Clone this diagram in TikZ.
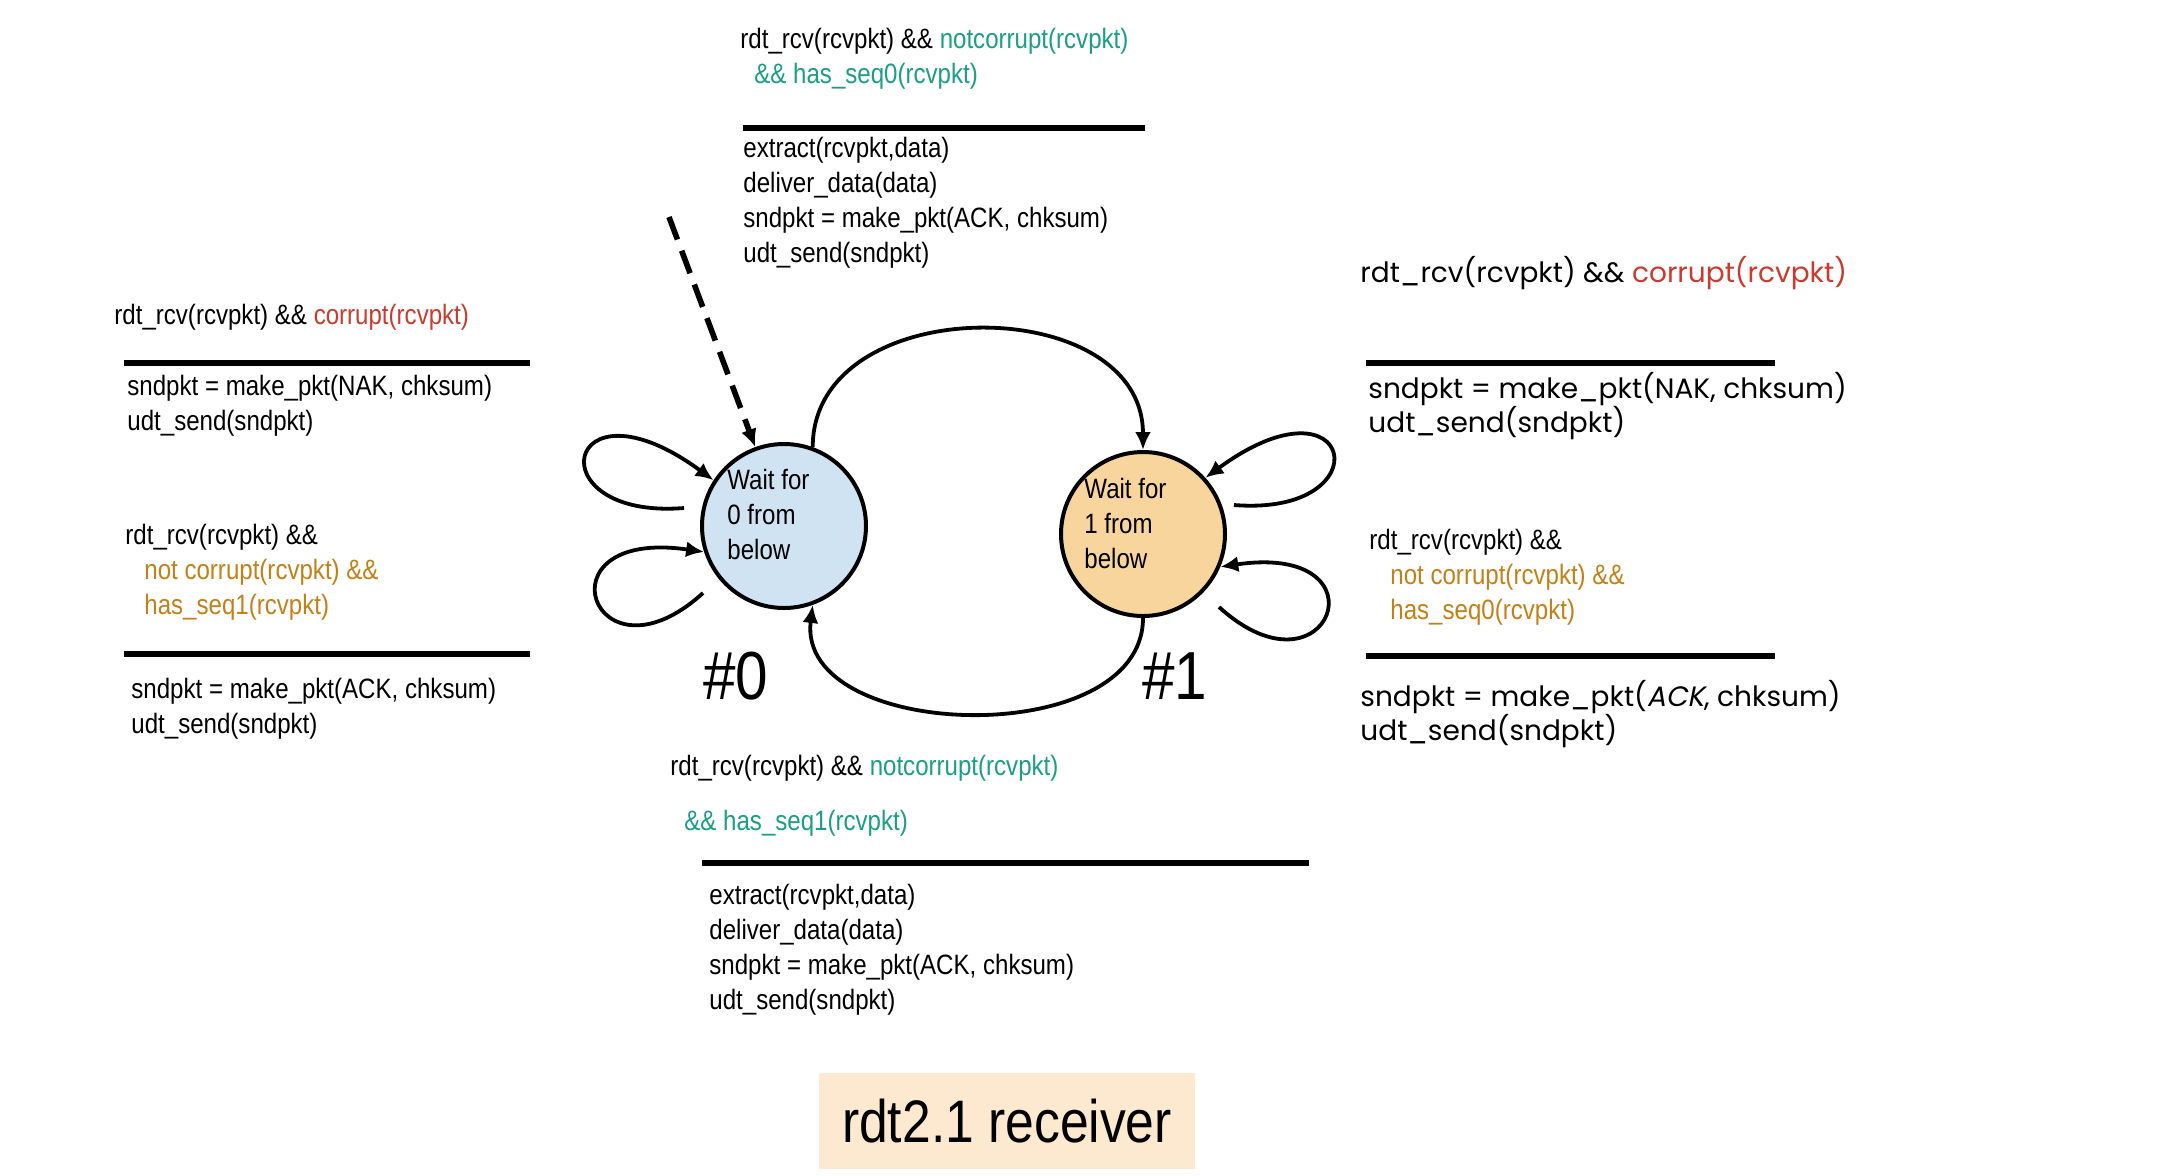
\documentclass[tikz,border=0pt]{standalone}
\usepackage{fontspec}
\setmainfont{Liberation Sans}[FakeStretch=0.86]
\newfontfamily\comicfont{Poppins}
\newfontfamily\comicslant{Poppins}[FakeSlant=0.2]
\usetikzlibrary{positioning,arrows.meta,calc}

\definecolor{okgreen}{RGB}{26,158,133}
\definecolor{badred}{RGB}{204,58,45}
\definecolor{dupbrown}{RGB}{196,128,24}
\definecolor{waitblue}{RGB}{207,227,243}
\definecolor{waitorange}{RGB}{249,213,158}
\definecolor{titlefill}{RGB}{252,233,208}

\begin{document}
\begin{tikzpicture}[
  x=0.5pt, y=-0.5pt,
  >={Latex[length=9pt,width=8pt]},
  cond/.style={font=\fontsize{14}{17.5}\selectfont, align=left, inner sep=0pt, anchor=base west},
  comic/.style={font=\comicfont\fontsize{14}{17}\selectfont, align=left, inner sep=0pt, anchor=base west},
  state/.style={circle, draw, line width=2pt, minimum size=82pt, inner sep=0pt},
  statetxt/.style={font=\fontsize{14}{17.5}\selectfont, align=left, inner sep=0pt, anchor=base west},
  bignum/.style={font=\fontsize{34}{40}\selectfont, inner sep=0pt, anchor=base west},
  edge/.style={->, line width=1.9pt},
  initedge/.style={->, line width=2.8pt, dash pattern=on 12pt off 6pt},
  bar/.style={line width=2.6pt},
]
\useasboundingbox (0,0) rectangle (2158,1175);
% multi-line nodes: positions give the baseline of the last line

% ---- the two states ----
\node[state, fill=waitblue] (s0) at (784,526) {};
\node[state, fill=waitorange] (s1) at (1143,534) {};
\node[statetxt] (t0) at (727,559) {Wait for\\0 from\\below};
\node[statetxt] (t1) at (1084,568) {Wait for\\1 from\\below};
\node[bignum] (n0) at (703,699) {\#0};
\node[bignum] (n1) at (1142,699) {\#1};

% ---- transitions ----
\coordinate (init) at (669,217);
\draw[initedge] (init) -- (s0.110);
\draw[edge] (s0.70) .. controls +(0,-157) and +(0,-160) .. (s1.north);
\draw[edge] (s1.south) .. controls +(0,134) and +(-17,137) .. (s0.290);

% self loops, free start just outside the circle
\coordinate (l0a) at (684,508);
\coordinate (l0b) at (703,593);
\coordinate (l1a) at (1234,505);
\coordinate (l1b) at (1219,607);
\draw[edge] (l0a) .. controls +(-150,12) and +(-150,-110) .. (s0.147);
\draw[edge] (l0b) .. controls +(-110,100) and +(-170,-25) .. (s0.198);
\draw[edge] (l1a) .. controls +(150,12) and +(150,-110) .. (s1.42);
\draw[edge] (l1b) .. controls +(110,100) and +(170,-25) .. (s1.337);

% ---- top: 0 -> 1 ----
\node[cond] (g01) at (740,83)
  {rdt\_rcv(rcvpkt) \&\& {\color{okgreen}notcorrupt(rcvpkt)}\\
   \hspace*{7pt}{\color{okgreen}\&\& has\_seq0(rcvpkt)}};
\draw[bar] (743,128) -- (1145,128);
\node[cond] (a01) at (743,262)
  {extract(rcvpkt,data)\\deliver\_data(data)\\sndpkt = make\_pkt(ACK, chksum)\\udt\_send(sndpkt)};

% ---- left: loops on 0 ----
\node[cond] (g00a) at (114,324) {rdt\_rcv(rcvpkt) \&\& {\color{badred}corrupt(rcvpkt)}};
\draw[bar] (124,363) -- (530,363);
\node[cond] (a00a) at (127,430) {sndpkt = make\_pkt(NAK, chksum)\\udt\_send(sndpkt)};

\node[cond] (g00b) at (125,614)
  {rdt\_rcv(rcvpkt) \&\&\\
   \hspace*{9.5pt}{\color{dupbrown}not corrupt(rcvpkt) \&\&}\\
   \hspace*{9.5pt}{\color{dupbrown}has\_seq1(rcvpkt)}};
\draw[bar] (124,654) -- (530,654);
\node[cond] (a00b) at (131,733) {sndpkt = make\_pkt(ACK, chksum)\\udt\_send(sndpkt)};

% ---- right: loops on 1 ----
\node[comic] (g11a) at (1360,282) {rdt\_rcv(rcvpkt) \&\& {\color{badred}corrupt(rcvpkt)}};
\draw[bar] (1366,363) -- (1775,363);
\node[comic] (a11a) at (1368,432) {sndpkt = make\_pkt(NAK, chksum)\\udt\_send(sndpkt)};

\node[cond] (g11b) at (1369,619)
  {rdt\_rcv(rcvpkt) \&\&\\
   \hspace*{10.5pt}{\color{dupbrown}not corrupt(rcvpkt) \&\&}\\
   \hspace*{10.5pt}{\color{dupbrown}has\_seq0(rcvpkt)}};
\draw[bar] (1366,656) -- (1775,656);
\node[comic] (a11b) at (1360,740) {sndpkt = make\_pkt({\comicslant ACK}, chksum)\\udt\_send(sndpkt)};

% ---- bottom: 1 -> 0 ----
\node[cond] (g10) at (670,830)
  {rdt\_rcv(rcvpkt) \&\& {\color{okgreen}notcorrupt(rcvpkt)}\\[10pt]
   \hspace*{7pt}{\color{okgreen}\&\& has\_seq1(rcvpkt)}};
\draw[bar] (702,863) -- (1309,863);
\node[cond] (a10) at (709,1009)
  {extract(rcvpkt,data)\\deliver\_data(data)\\sndpkt = make\_pkt(ACK, chksum)\\udt\_send(sndpkt)};

% ---- caption ----
\node[fill=titlefill, minimum width=188pt, minimum height=48pt, inner sep=0pt,
      font=\fontsize{30}{36}\selectfont] (title) at (1007,1121) {rdt2.1 receiver};
\end{tikzpicture}
\end{document}
